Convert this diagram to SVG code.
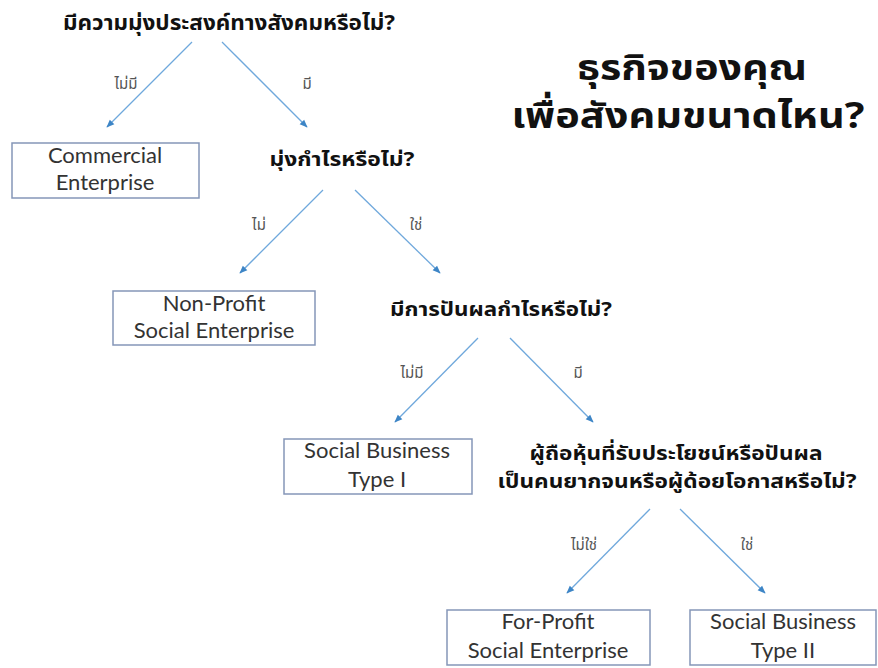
<svg xmlns="http://www.w3.org/2000/svg" width="878" height="668" viewBox="0 0 878 668">
<defs>
<marker id="ah" viewBox="0 0 10 10" refX="9" refY="5" markerWidth="8" markerHeight="8" markerUnits="userSpaceOnUse" orient="auto">
<path d="M0,1 L10,5 L0,9 z" fill="#3d85c6"/>
</marker>
<style>
.box{fill:#fff;stroke:#8596b8;stroke-width:1.5}
.bt{font-family:Lato,"Open Sans","Liberation Sans",sans-serif;font-size:22px;fill:#333;text-anchor:middle}
.q{font-family:"Noto Sans Thai","Noto Sans Thai Looped","Noto Sans",sans-serif;font-weight:bold;fill:#111;text-anchor:middle}
.lbl{font-family:"Noto Sans Thai","Noto Sans",sans-serif;font-size:15px;fill:#555;text-anchor:middle}
.c{stroke:#6fa8dc;stroke-width:1.3;fill:none;marker-end:url(#ah)}
</style>
</defs>
<rect width="878" height="668" fill="#fff"/>
<g id="title">
<text class="q" x="692" y="80" font-size="35" textLength="230" lengthAdjust="spacingAndGlyphs">ธุรกิจของคุณ</text>
<text class="q" x="688" y="128" font-size="35" textLength="353" lengthAdjust="spacingAndGlyphs">เพื่อสังคมขนาดไหน?</text>
</g>
<g id="q1"><text class="q" x="229" y="30" font-size="22" textLength="332" lengthAdjust="spacingAndGlyphs">มีความมุ่งประสงค์ทางสังคมหรือไม่?</text></g>
<g id="commercial"><rect class="box" x="12" y="143" width="187" height="55"/>
<text class="bt" x="105" y="163">Commercial</text><text class="bt" x="105" y="190">Enterprise</text></g>
<g id="q2"><text class="q" x="342" y="166" font-size="20" textLength="145" lengthAdjust="spacingAndGlyphs">มุ่งกำไรหรือไม่?</text></g>
<g id="nonprofit"><rect class="box" x="113" y="291" width="202" height="54"/>
<text class="bt" x="214" y="311">Non-Profit</text><text class="bt" x="214" y="338">Social Enterprise</text></g>
<g id="q3"><text class="q" x="501" y="316" font-size="20" textLength="222" lengthAdjust="spacingAndGlyphs">มีการปันผลกำไรหรือไม่?</text></g>
<g id="sb1"><rect class="box" x="284" y="439" width="188" height="55"/>
<text class="bt" x="377" y="458">Social Business</text><text class="bt" x="377" y="487">Type I</text></g>
<g id="q4">
<text class="q" x="676" y="460" font-size="20" textLength="293" lengthAdjust="spacingAndGlyphs">ผู้ถือหุ้นที่รับประโยชน์หรือปันผล</text>
<text class="q" x="677" y="488" font-size="20" textLength="359" lengthAdjust="spacingAndGlyphs">เป็นคนยากจนหรือผู้ด้อยโอกาสหรือไม่?</text>
</g>
<g id="forprofit"><rect class="box" x="447" y="610" width="203" height="55"/>
<text class="bt" x="548" y="629">For-Profit</text><text class="bt" x="548" y="658">Social Enterprise</text></g>
<g id="sb2"><rect class="box" x="690" y="610" width="186" height="55"/>
<text class="bt" x="783" y="629">Social Business</text><text class="bt" x="783" y="658">Type II</text></g>
<g id="connectors">
<line class="c" x1="192" y1="42" x2="107" y2="127"/>
<line class="c" x1="222" y1="42" x2="307" y2="127"/>
<line class="c" x1="323" y1="190" x2="240" y2="273"/>
<line class="c" x1="355" y1="190" x2="440" y2="273"/>
<line class="c" x1="478" y1="338" x2="395" y2="422"/>
<line class="c" x1="510" y1="338" x2="593" y2="422"/>
<line class="c" x1="650" y1="509" x2="567" y2="593"/>
<line class="c" x1="680" y1="509" x2="765" y2="593"/>
<text class="lbl" x="126" y="89">ไม่มี</text>
<text class="lbl" x="307" y="89">มี</text>
<text class="lbl" x="259" y="230">ไม่</text>
<text class="lbl" x="416" y="230">ใช่</text>
<text class="lbl" x="412" y="378">ไม่มี</text>
<text class="lbl" x="578" y="378">มี</text>
<text class="lbl" x="584" y="550">ไม่ใช่</text>
<text class="lbl" x="747" y="550">ใช่</text>
</g>
</svg>
